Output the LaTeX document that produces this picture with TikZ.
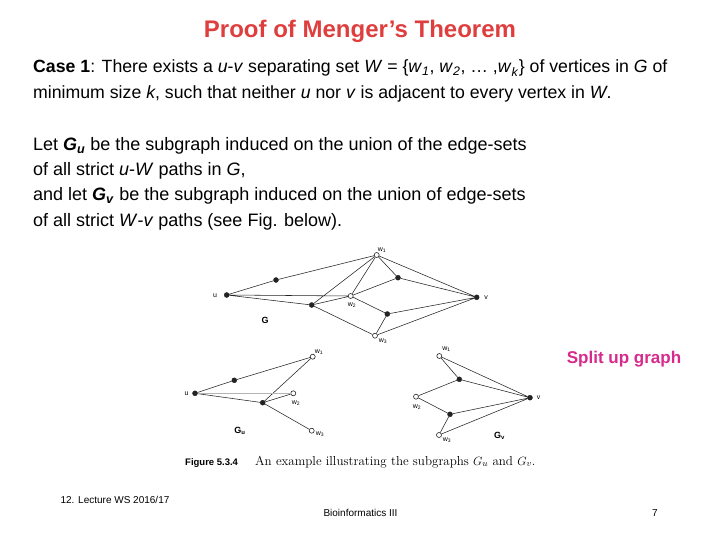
\documentclass[tikz,border=0pt]{standalone}
\usepackage{fontspec}
\newfontfamily\arial{Liberation Sans}
\usetikzlibrary{positioning}
\definecolor{ttl}{RGB}{222,62,62}
\definecolor{hot}{RGB}{214,42,140}
\definecolor{ink}{RGB}{35,35,35}
\definecolor{lite}{RGB}{180,180,180}

\begin{document}
\begin{tikzpicture}[x=1pt,y=-1pt,font=\arial]
\tikzset{txt/.style={anchor=base west,inner sep=0pt,font=\arial\fontsize{18}{20}\selectfont},
  dot/.style={circle,fill=ink,draw=ink,inner sep=0pt,minimum size=5pt},
  hol/.style={circle,fill=white,draw=ink,line width=0.6pt,inner sep=0pt,minimum size=5pt},
  lab/.style={inner sep=0pt,font=\arial\fontsize{7}{8}\selectfont},
  gname/.style={inner sep=0pt,font=\arial\bfseries\fontsize{9}{10}\selectfont},
  edg/.style={draw=ink,line width=0.55pt},
  foot/.style={inner sep=0pt,font=\arial\fontsize{10}{12}\selectfont}}
\useasboundingbox (0,0) rectangle (720,540);
% title and text
\node[inner sep=0pt,text=ttl,font=\arial\bfseries\fontsize{24}{28}\selectfont] (title) at (360,31) {Proof of Menger’s Theorem};
\node[txt,font=\arial\fontsize{17.7}{20}\selectfont] (c1) at (33,73) {\textbf{Case 1}: There exists a \textit{u}-\textit{v} separating set \textit{W} = \{\textit{w}\textsubscript{\textit{1}}, \textit{w}\textsubscript{\textit{2}}, \dots\ ,\textit{w}\textsubscript{\textit{k}}\} of vertices in \textit{G} of};
\node[txt,font=\arial\fontsize{17.7}{20}\selectfont] (c2) at (33,99) {minimum size \textit{k}, such that neither \textit{u} nor \textit{v} is adjacent to every vertex in \textit{W}.};
\node[txt] (l1) at (33,151) {Let \textbf{\textit{G}\textsubscript{\textit{u}}} be the subgraph induced on the union of the edge-sets};
\node[txt] (l2) at (33,176) {of all strict \textit{u}-\textit{W} paths in \textit{G},};
\node[txt] (l3) at (33,201) {and let \textbf{\textit{G}\textsubscript{\textit{v}}} be the subgraph induced on the union of edge-sets};
\node[txt] (l4) at (33,226) {of all strict \textit{W}-\textit{v} paths (see Fig. below).};
% graph G
\node[dot] (u) at (226.7,295) {};
\node[dot] (a) at (276,280) {};
\node[hol] (w1) at (376.7,255) {};
\node[dot] (b) at (398,277.7) {};
\node[hol] (w2) at (350.7,296) {};
\node[dot] (c) at (311.7,305) {};
\node[dot] (d) at (387.3,314) {};
\node[hol] (w3) at (375,335.7) {};
\node[dot] (v) at (476.7,297.3) {};
\draw[edg] (u)--(a) (a)--(w1) (u)--(w2) (u)--(c) (c)--(w1) (c)--(w2) (c)--(w3);
\draw[edg] (w1)--(w2) (w1)--(b) (w1)--(v) (b)--(w2) (b)--(v) (w2)--(d) (d)--(v) (d)--(w3) (w3)--(v);
\node[lab] (lu) at (215,296) {u};
\node[lab] (lv) at (486,297.5) {v};
\node[lab] (lw1) at (382,250) {w\textsubscript{1}};
\node[lab] (lw2) at (352,305) {w\textsubscript{2}};
\node[lab] (lw3) at (383,341.5) {w\textsubscript{3}};
\node[gname] (lg) at (265,320.5) {G};
% subgraph Gu
\node[dot] (uu) at (195,393.3) {};
\node[dot] (ua) at (234.3,380.3) {};
\node[hol] (uw1) at (312.7,356.7) {};
\node[dot] (uc) at (262.7,402.7) {};
\node[hol] (uw2) at (293.3,393.3) {};
\node[hol] (uw3) at (311.7,430.7) {};
\draw[edg] (uu)--(ua) (ua)--(uw1) (uu)--(uc) (uc)--(uw1) (uc)--(uw2) (uc)--(uw3);
\draw[draw=lite,line width=0.6pt] (uu)--(uw2);
\node[lab] (luu) at (186.5,393.5) {u};
\node[lab] (luw1) at (319,352.5) {w\textsubscript{1}};
\node[lab] (luw2) at (296,403) {w\textsubscript{2}};
\node[lab] (luw3) at (320,434.5) {w\textsubscript{3}};
\node[gname] (lgu) at (240,430.5) {G\textsubscript{u}};
% subgraph Gv
\node[hol] (vw1) at (439.3,356) {};
\node[dot] (vb) at (459.3,379.3) {};
\node[hol] (vw2) at (416,396.7) {};
\node[dot] (vv) at (530,397.7) {};
\node[dot] (vd) at (450,414.3) {};
\node[hol] (vw3) at (439,435) {};
\draw[edg] (vw1)--(vb) (vw1)--(vv) (vb)--(vw2) (vb)--(vv) (vw2)--(vd) (vd)--(vv) (vd)--(vw3) (vw3)--(vv);
\node[lab] (lvv) at (538.5,397.7) {v};
\node[lab] (lvw1) at (446.5,349) {w\textsubscript{1}};
\node[lab] (lvw2) at (417,407.5) {w\textsubscript{2}};
\node[lab] (lvw3) at (447,440) {w\textsubscript{3}};
\node[gname] (lgv) at (499.5,435.5) {G\textsubscript{v}};
% caption
\node[inner sep=0pt,anchor=base west,font=\arial\bfseries\fontsize{9.5}{11}\selectfont] (fig) at (185,465) {Figure 5.3.4};
\node[inner sep=0pt,anchor=base west,font=\rmfamily\fontsize{13}{15}\selectfont] (cap) at (255,465) {An example illustrating the subgraphs $G_u$ and $G_v$.};
\node[inner sep=0pt,text=hot,font=\arial\bfseries\fontsize{17}{20}\selectfont] (split) at (624,359) {Split up graph};
% footer
\node[foot] (lec) at (115,500) {12. Lecture WS 2016/17};
\node[foot] (bio) at (360.5,513) {Bioinformatics III};
\node[foot] (pg) at (655,513) {7};
\end{tikzpicture}
\end{document}
